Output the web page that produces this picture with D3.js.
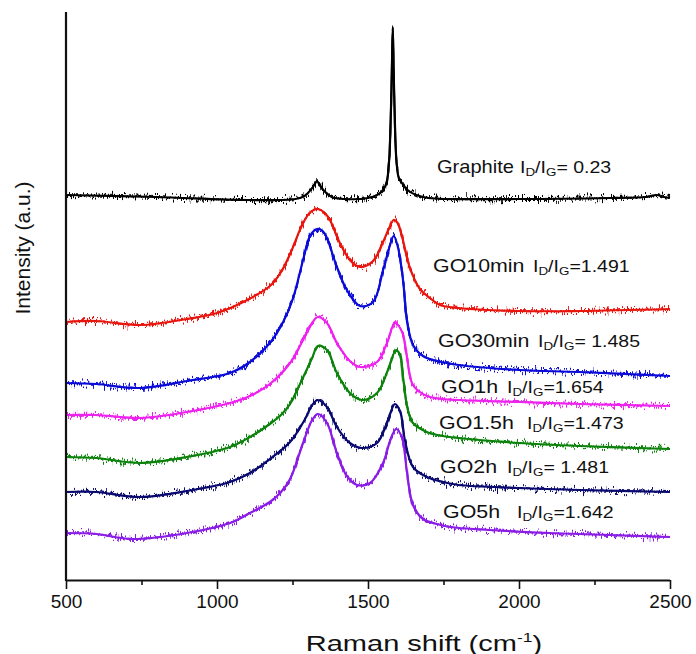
<!DOCTYPE html>
<html>
<head>
<meta charset="utf-8">
<script src="https://cdn.jsdelivr.net/npm/d3@7"></script>
<style>
  html, body { margin: 0; padding: 0; background: #fff; }
  svg { display: block; font-family: "Liberation Sans", Arial, sans-serif; }
</style>
</head>
<body>
<svg id="chart" width="696" height="654"></svg>
<script>
// Raman spectra, stacked with vertical offsets: [shift (cm^-1), intensity (a.u.)]
const graphite = [[500,38.5],[800,38.3],[1100,38.0],[1260,38.1],[1290,38.4],[1310,39.0],[1322,39.5],[1331,39.9],[1340,39.5],[1355,38.9],[1380,38.3],[1420,38.1],[1500,38.2],[1530,38.5],[1550,39.0],[1562,39.8],[1570,42.0],[1576,47.0],[1579,51.0],[1582,55.2],[1585,51.0],[1588,47.0],[1594,42.0],[1602,40.2],[1615,39.6],[1630,39.0],[1660,38.5],[1700,38.2],[2000,38.1],[2300,38.2],[2420,38.3],[2455,38.5],[2480,38.3],[2500,38.2]];
const go10min = [[500,25.8],[600,25.9],[745,25.5],[900,26.1],[1000,26.7],[1100,28.0],[1175,29.4],[1210,30.7],[1242,32.6],[1285,35.7],[1310,36.8],[1335,37.1],[1360,36.6],[1374,36.0],[1407,33.7],[1440,32.0],[1474,31.3],[1517,31.9],[1550,33.8],[1570,35.2],[1585,36.0],[1598,35.7],[1613,34.3],[1639,31.2],[1672,29.1],[1705,28.2],[1738,27.5],[1800,27.2],[2000,26.9],[2200,26.9],[2500,27.1]];
const go30min = [[500,19.7],[600,19.6],[745,19.2],[900,19.9],[1043,20.7],[1109,21.8],[1175,23.7],[1219,25.8],[1252,28.2],[1285,32.0],[1308,34.4],[1331,35.1],[1350,34.9],[1364,34.2],[1397,31.3],[1430,29.0],[1474,27.4],[1517,27.8],[1550,31.0],[1573,33.5],[1585,34.4],[1599,33.3],[1616,30.0],[1629,26.0],[1649,23.5],[1682,22.4],[1728,21.9],[1800,21.5],[2000,21.0],[2200,20.8],[2500,20.4]];
const go1h = [[500,16.5],[600,16.5],[745,16.2],[900,16.8],[1043,17.7],[1109,18.4],[1175,19.6],[1242,21.7],[1285,24.0],[1315,25.7],[1334,26.3],[1364,25.7],[1397,23.7],[1440,21.9],[1474,21.3],[1530,21.8],[1563,23.7],[1589,25.7],[1613,24.8],[1629,22.3],[1649,19.5],[1695,18.4],[1748,18.1],[1800,18.0],[2000,17.8],[2200,17.6],[2500,17.4]];
const go15h = [[500,12.3],[600,12.2],[745,11.7],[900,12.3],[1043,13.3],[1109,14.3],[1175,15.6],[1215,16.6],[1242,17.6],[1275,19.6],[1315,22.2],[1334,23.4],[1364,23.0],[1397,20.7],[1440,18.7],[1480,18.0],[1530,18.7],[1566,21.0],[1593,23.0],[1606,22.5],[1616,20.3],[1632,17.0],[1649,15.7],[1695,14.8],[1748,14.4],[1800,14.2],[2000,13.7],[2200,13.4],[2500,13.1]];
const go2h = [[500,8.8],[600,8.8],[745,8.3],[900,8.9],[1043,9.8],[1109,10.7],[1175,12.1],[1242,13.8],[1290,16.0],[1315,17.5],[1334,18.0],[1364,17.3],[1397,15.3],[1440,13.7],[1480,13.2],[1530,13.7],[1563,15.7],[1589,17.6],[1606,16.9],[1622,14.0],[1649,11.3],[1695,10.3],[1748,9.8],[1800,9.5],[2000,9.2],[2200,9.0],[2500,8.8]];
const go5h = [[500,4.7],[600,4.6],[720,4.1],[900,4.7],[1043,5.7],[1109,6.7],[1175,7.8],[1209,8.7],[1242,10.1],[1285,13.7],[1315,16.0],[1334,16.6],[1364,15.7],[1397,12.7],[1430,10.4],[1464,9.5],[1507,9.7],[1550,11.7],[1573,13.9],[1593,15.1],[1613,14.2],[1629,10.8],[1649,7.5],[1682,6.1],[1728,5.6],[1772,5.3],[1900,5.0],[2100,4.7],[2300,4.5],[2500,4.3]];

const sampleNames = ["Graphite", "GO10min", "GO30min", "GO1h", "GO1.5h", "GO2h", "GO5h"];
const ratioLabels = ["= 0.23", "=1.491", "= 1.485", "=1.654", "=1.473", "= 1.481", "=1.642"];
const lineColors = ["#000000", "#e8150f", "#0a0ad8", "#ee22ee", "#0c820c", "#08086e", "#8a1ee6"];
const xTicks = [500, 1000, 1500, 2000, 2500];
const xMinorTicks = [750, 1250, 1750, 2250];

const spectra = [graphite, go10min, go30min, go1h, go15h, go2h, go5h];

const svg = d3.select("#chart");
const M = {left: 66, right: 670, top: 12, bottom: 580};

const x = d3.scaleLinear().domain([500, 2500]).range([M.left, M.right]);
const y = d3.scaleLinear().domain([0, 56.8]).range([M.bottom, M.top]);

// jagged texture for the noisy detector signal
const defs = svg.append("defs");
const f = defs.append("filter").attr("id", "noise")
  .attr("x", "-2%").attr("y", "-10%").attr("width", "104%").attr("height", "120%");
f.append("feTurbulence").attr("type", "fractalNoise")
  .attr("baseFrequency", "1.1 0.08").attr("numOctaves", 2).attr("seed", 4).attr("result", "t");
f.append("feColorMatrix").attr("in", "t").attr("type", "matrix")
  .attr("values", "1 0 0 0 0  0 0 0 0 0.5  0 0 0 0 0  0 0 0 0 1").attr("result", "m");
f.append("feDisplacementMap").attr("in", "SourceGraphic").attr("in2", "m")
  .attr("scale", 15).attr("xChannelSelector", "G").attr("yChannelSelector", "R");

const line = d3.line()
  .x(d => x(d[0]))
  .y(d => y(d[1]))
  .curve(d3.curveCatmullRom.alpha(0.5));

const g = svg.append("g");
spectra.forEach((s, i) => {
  g.append("path").datum(s)
    .attr("d", line).attr("fill", "none")
    .attr("stroke", lineColors[i]).attr("stroke-width", 2.2);
  g.append("path").datum(s)
    .attr("d", line).attr("fill", "none")
    .attr("stroke", lineColors[i]).attr("stroke-width", 2)
    .attr("filter", "url(#noise)");
});

// axes
const xAxis = d3.axisBottom(x).tickValues(xTicks).tickSize(9).tickPadding(6).tickFormat(d3.format("d"));
const ax = svg.append("g").attr("transform", `translate(0,${M.bottom})`).call(xAxis);
ax.select(".domain").attr("d", `M${M.left},0.5H${M.right}`).attr("stroke", "#111").attr("stroke-width", 2);
ax.selectAll(".tick line").attr("stroke", "#111").attr("stroke-width", 1.6);
ax.selectAll(".tick text").attr("font-size", 19).attr("fill", "#111")
  .attr("font-family", "Liberation Sans, Arial, sans-serif");

const axMinor = d3.axisBottom(x).tickValues(xMinorTicks).tickSize(5).tickFormat("");
const am = svg.append("g").attr("transform", `translate(0,${M.bottom})`).call(axMinor);
am.select(".domain").remove();
am.selectAll(".tick line").attr("stroke", "#111").attr("stroke-width", 1.6);

svg.append("line").attr("x1", M.left).attr("x2", M.left).attr("y1", M.top).attr("y2", M.bottom + 1)
  .attr("stroke", "#111").attr("stroke-width", 2.2);

// axis titles
const xt = svg.append("g").attr("transform", "translate(424,651) scale(1.35,1)")
  .append("text").attr("text-anchor", "middle").attr("font-size", 21.5).attr("fill", "#111");
xt.append("tspan").text("Raman shift (cm");
xt.append("tspan").attr("font-size", 13).attr("dy", -9).text("-1");
xt.append("tspan").attr("dy", 9).text(")");

svg.append("text").attr("transform", "translate(30,248) rotate(-90)")
  .attr("text-anchor", "middle").attr("font-size", 21).attr("fill", "#111")
  .text("Intensity (a.u.)");

// sample labels with I_D/I_G ratios
const labelPos = [
  {nx: 437, rx: 520, yb: 173},
  {nx: 433, rx: 533, yb: 272},
  {nx: 438, rx: 538, yb: 347},
  {nx: 441, rx: 507, yb: 393},
  {nx: 439, rx: 527, yb: 429},
  {nx: 440, rx: 507, yb: 473},
  {nx: 443, rx: 517, yb: 518}
];
labelPos.forEach((p, i) => {
  svg.append("g").attr("transform", `translate(${p.nx},${p.yb}) scale(${i === 0 ? 1.08 : 1.15},1)`)
    .append("text").attr("font-size", 18.6).attr("fill", "#111")
    .text(sampleNames[i]);
  const t = svg.append("g").attr("transform", `translate(${p.rx},${p.yb}) scale(1.22,1)`)
    .append("text").attr("font-size", 16).attr("fill", "#111");
  t.append("tspan").text("I");
  t.append("tspan").attr("font-size", 11).attr("dy", 3).text("D");
  t.append("tspan").attr("dy", -3).text("/I");
  t.append("tspan").attr("font-size", 11).attr("dy", 3).text("G");
  t.append("tspan").attr("dy", -3).text(ratioLabels[i]);
});
</script>
</body>
</html>
